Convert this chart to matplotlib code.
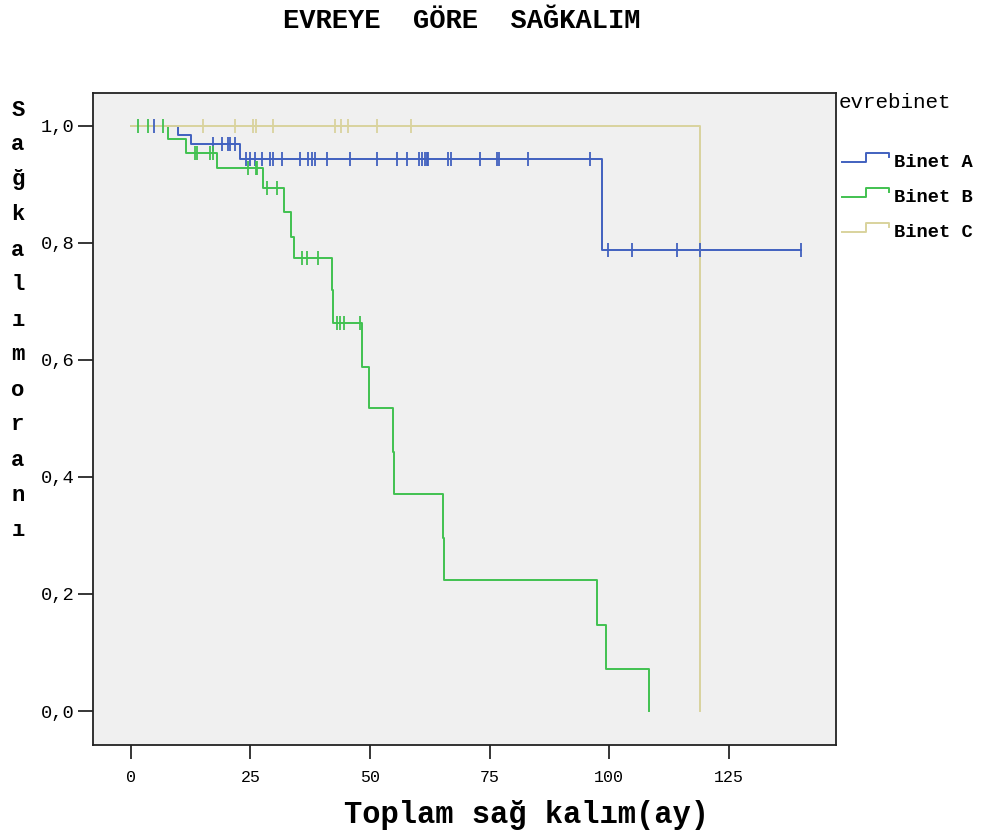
import numpy as np
import matplotlib
matplotlib.use("Agg")
import matplotlib.pyplot as plt
from matplotlib.legend_handler import HandlerBase
from matplotlib.lines import Line2D

# Kaplan-Meier curves: drop times, survival after each drop, censor times
a_times = [0, 9.8, 12.5, 22.8, 98.5, 140.0]
a_surv = [1.0, 0.985, 0.969, 0.944, 0.788, 0.788]
a_cens = [4.8, 17.1, 19.0, 20.3, 20.8, 21.7, 24.0, 24.9, 25.9, 27.4, 29.1, 29.7,
          31.6, 35.3, 37.0, 37.8, 38.5, 41.0, 45.8, 51.4, 55.6, 57.7, 60.2, 60.8,
          61.4, 61.9, 62.1, 66.3, 66.9, 73.0, 76.5, 76.9, 83.0, 95.9, 99.7, 104.7,
          114.1, 118.9, 140.0]

b_times = [0, 7.7, 11.5, 18.0, 27.6, 32.0, 33.4, 34.1, 42.0, 42.3, 48.3, 49.8,
           54.8, 55.0, 65.2, 65.4, 97.4, 99.3, 108.3]
b_surv = [1.0, 0.978, 0.954, 0.928, 0.894, 0.853, 0.810, 0.774, 0.720, 0.663,
          0.588, 0.518, 0.443, 0.371, 0.296, 0.224, 0.147, 0.072, 0.0]
b_cens = [1.5, 3.6, 6.7, 13.4, 13.8, 16.5, 17.1, 24.5, 26.1, 26.3, 28.4, 30.5,
          35.8, 36.8, 39.1, 43.2, 43.8, 44.5, 47.9]

c_times = [0, 118.9]
c_surv = [1.0, 0.0]
c_cens = [15.1, 21.7, 25.5, 26.1, 29.7, 42.6, 43.9, 45.4, 51.4, 58.5]

groups = ["Binet A", "Binet B", "Binet C"]
colors = ["#4161BF", "#41C150", "#D9D39D"]

xticks = [0, 25, 50, 75, 100, 125]
yticks = [0.0, 0.2, 0.4, 0.6, 0.8, 1.0]
ytick_labels = ["0,0", "0,2", "0,4", "0,6", "0,8", "1,0"]
ylabel_letters = list("Sağkalımoranı")

MONO = "Liberation Mono"


def surv_at(times, surv, t):
    idx = np.searchsorted(times, t, side="right") - 1
    return np.array(surv)[idx]


class StepHandler(HandlerBase):
    # legend glyph drawn like a little survival step, as SPSS does
    def create_artists(self, legend, orig_handle, xdescent, ydescent,
                       width, height, fontsize, trans):
        xs = np.array([0, 0.52, 0.52, 1.0, 1.0]) * width - xdescent
        ys = np.array([0.4, 0.4, 1.05, 1.05, 0.75]) * height - ydescent
        ln = Line2D(xs, ys, color=orig_handle.get_color(),
                    lw=orig_handle.get_linewidth(), transform=trans)
        return [ln]


fig = plt.figure(figsize=(9.87, 8.33), dpi=100)
ax = fig.add_axes([93 / 987, 1 - 745 / 833, (836 - 93) / 987, (745 - 93) / 833])
ax.set_facecolor("#F0F0F0")

data = [(c_times, c_surv, c_cens), (a_times, a_surv, a_cens), (b_times, b_surv, b_cens)]
order = [2, 0, 1]
handles = {}
for (times, surv, cens), gi in zip(data, order):
    ln, = ax.step(times, surv, where="post", color=colors[gi], lw=1.4, zorder=2 + gi % 3)
    ax.plot(cens, surv_at(times, surv, cens), ls="none", marker="|",
            ms=9.5, mew=1.3, color=colors[gi], zorder=5)
    handles[gi] = ln

ax.set_xlim(-7.9, 147.4)
ax.set_ylim(-0.058, 1.056)
ax.set_xticks(xticks)
ax.set_xticklabels([str(x) for x in xticks], fontfamily=MONO, fontsize=12)
ax.set_yticks(yticks)
ax.set_yticklabels(ytick_labels, fontfamily=MONO, fontsize=13.5)
ax.tick_params(axis="y", length=11, width=1.1, pad=2)
ax.tick_params(axis="x", length=10, width=1.1, pad=8)
for sp in ax.spines.values():
    sp.set_linewidth(1.3)
    sp.set_color("#222222")

fig.text(462 / 987, 1 - 21 / 833, "EVREYE  GÖRE  SAĞKALIM", ha="center", va="center",
         fontfamily=MONO, fontweight="bold", fontsize=19.5)
fig.text(526 / 987, 1 - 815 / 833, "Toplam sağ kalım(ay)", ha="center", va="center",
         fontfamily=MONO, fontweight="bold", fontsize=22)

# vertical y label, one letter per row
ys = np.linspace(110, 530, len(ylabel_letters))
for ch, y in zip(ylabel_letters, ys):
    fig.text(18 / 987, 1 - y / 833, ch, ha="center", va="center",
             fontfamily=MONO, fontweight="bold", fontsize=16)

fig.text(839 / 987, 1 - 103 / 833, "evrebinet", ha="left", va="center",
         fontfamily=MONO, fontsize=15)
leg = fig.legend([handles[0], handles[1], handles[2]], groups,
                 handler_map={Line2D: StepHandler()},
                 loc="upper left", bbox_to_anchor=(842 / 987, 1 - 154 / 833),
                 frameon=False, prop={"family": MONO, "weight": "bold", "size": 13.5},
                 handlelength=2.5, handletextpad=0.25, labelspacing=0.95,
                 borderpad=0, borderaxespad=0)

fig.savefig("out.png", dpi=100)
